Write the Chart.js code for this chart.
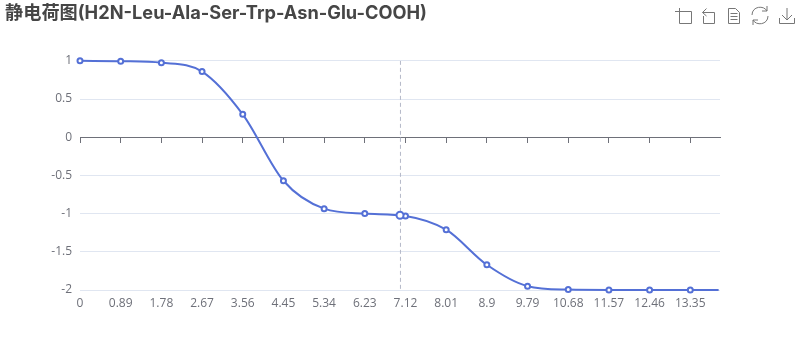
<!DOCTYPE html>
<html>
<head>
<meta charset="utf-8">
<script src="https://cdn.jsdelivr.net/npm/chart.js@4"></script>
<style>
  html, body { margin: 0; padding: 0; background: #fff; }
  #wrap { position: relative; width: 800px; height: 360px; }
  #toolbox { position: absolute; left: 0; top: 0; }
</style>
</head>
<body>
<div id="wrap">
  <canvas id="plot" width="800" height="360"></canvas>
  <svg id="toolbox" width="800" height="30" fill="none" stroke="#777" stroke-width="1">
    <path d="M675 11.5H691.5V23.5H679.5V8" />
    <path d="M706.5 8.5L702.5 12.5L706.5 16M702.5 12.5H714.5V23.5H703.5V16" />
    <path d="M728.5 8.5H735.5L739.5 12.5V23.5H728.5ZM730.5 13.5H737.5M730.5 16.5H737.5M730.5 19.5H737.5" />
    <path d="M752 15C752 6 764 5 767 11M767 6V11H762M768 16C768 25 756 26 753 20M753 25V20H758" />
    <path d="M787 8V20M782 15L787 20L792 15M779.5 18V23.5H794.5V18" />
  </svg>
</div>
<script>
let titulo = "静电荷图(H2N-Leu-Ala-Ser-Trp-Asn-Glu-COOH)";

let phValues = [0, 0.89, 1.78, 2.67, 3.56, 4.45, 5.34, 6.23, 7.12, 8.01, 8.9, 9.79, 10.68, 11.57, 12.46, 13.35, 13.97];
let chargeValues = [1, 0.995, 0.975, 0.86, 0.3, -0.57, -0.935, -1.0, -1.03, -1.21, -1.67, -1.95, -1.995, -2, -2, -2, -2];
let xTicks = [0, 0.89, 1.78, 2.67, 3.56, 4.45, 5.34, 6.23, 7.12, 8.01, 8.9, 9.79, 10.68, 11.57, 12.46, 13.35];
let yTicks = [1, 0.5, 0, -0.5, -1, -1.5, -2];
let pointerX = [7.01, 7.01];
let pointerY = [1, -2];
let hoverX = [7];
let hoverY = [-1.022];

let azul = "#5470d6";
let fuente = '"Open Sans", "Noto Sans CJK SC", sans-serif';
let fuenteTitulo = 'Inter, "Noto Sans CJK SC", sans-serif';

let toPoints = (xs, ys) => xs.map((x, i) => ({ x: x, y: ys[i] }));
let setTicks = (values) => (scale) => {
  scale.ticks = values.map((v) => ({ value: v }));
};

let config = {
  type: "line",
  data: {
    datasets: [
      {
        // linea del puntero
        data: toPoints(pointerX, pointerY),
        order: 3,
        borderColor: "#b4b8c8",
        borderWidth: 1,
        borderDash: [4, 3],
        pointRadius: 0,
      },
      {
        data: toPoints(phValues, chargeValues),
        order: 2,
        borderColor: azul,
        borderWidth: 2,
        cubicInterpolationMode: "monotone",
        clip: false,
        pointBackgroundColor: "#fff",
        pointBorderColor: azul,
        pointBorderWidth: 2,
        pointRadius: (ctx) => (ctx.dataIndex === phValues.length - 1 ? 0 : 2.5),
      },
      {
        // punto resaltado, encima de la curva
        data: toPoints(hoverX, hoverY),
        order: 1,
        showLine: false,
        clip: false,
        pointBackgroundColor: "#fff",
        pointBorderColor: azul,
        pointBorderWidth: 2,
        pointRadius: 3.5,
      },
    ],
  },
  options: {
    responsive: false,
    animation: false,
    events: [],
    layout: { padding: { left: 5, right: 80, top: 0, bottom: 0 } },
    plugins: {
      legend: { display: false },
      tooltip: { enabled: false },
      title: {
        display: true,
        text: titulo,
        align: "start",
        color: "#464646",
        font: { family: fuenteTitulo, size: 18.2, weight: "bold" },
        padding: { top: 3, bottom: 36 },
      },
    },
    scales: {
      x: {
        type: "linear",
        min: 0,
        max: 14,
        afterBuildTicks: setTicks(xTicks),
        afterFit: (scale) => { scale.height = 70; },
        border: { display: false },
        grid: { display: false, drawTicks: false },
        ticks: {
          color: "#6e7079",
          font: { family: fuente, size: 12 },
          maxRotation: 0,
          autoSkip: false,
          padding: 6,
          callback: (v) => String(v),
        },
      },
      // eje en y = 0, solo linea y marcas, las etiquetas van abajo
      xCero: {
        type: "linear",
        axis: "x",
        position: { y: 0 },
        min: 0,
        max: 14,
        afterBuildTicks: setTicks(xTicks),
        border: { display: true, color: "#6e7079" },
        grid: { drawOnChartArea: false, drawTicks: true, tickLength: 5, color: "#6e7079" },
        ticks: { display: false },
      },
      y: {
        min: -2,
        max: 1,
        afterBuildTicks: setTicks(yTicks),
        afterFit: (scale) => { scale.width = 75; },
        border: { display: false },
        grid: { color: "#e0e6f1", drawTicks: false },
        ticks: {
          color: "#6e7079",
          font: { family: fuente, size: 12 },
          padding: 8,
          callback: (v) => String(v),
        },
      },
    },
  },
};

let chart1 = new Chart(document.getElementById("plot"), config);
</script>
</body>
</html>
